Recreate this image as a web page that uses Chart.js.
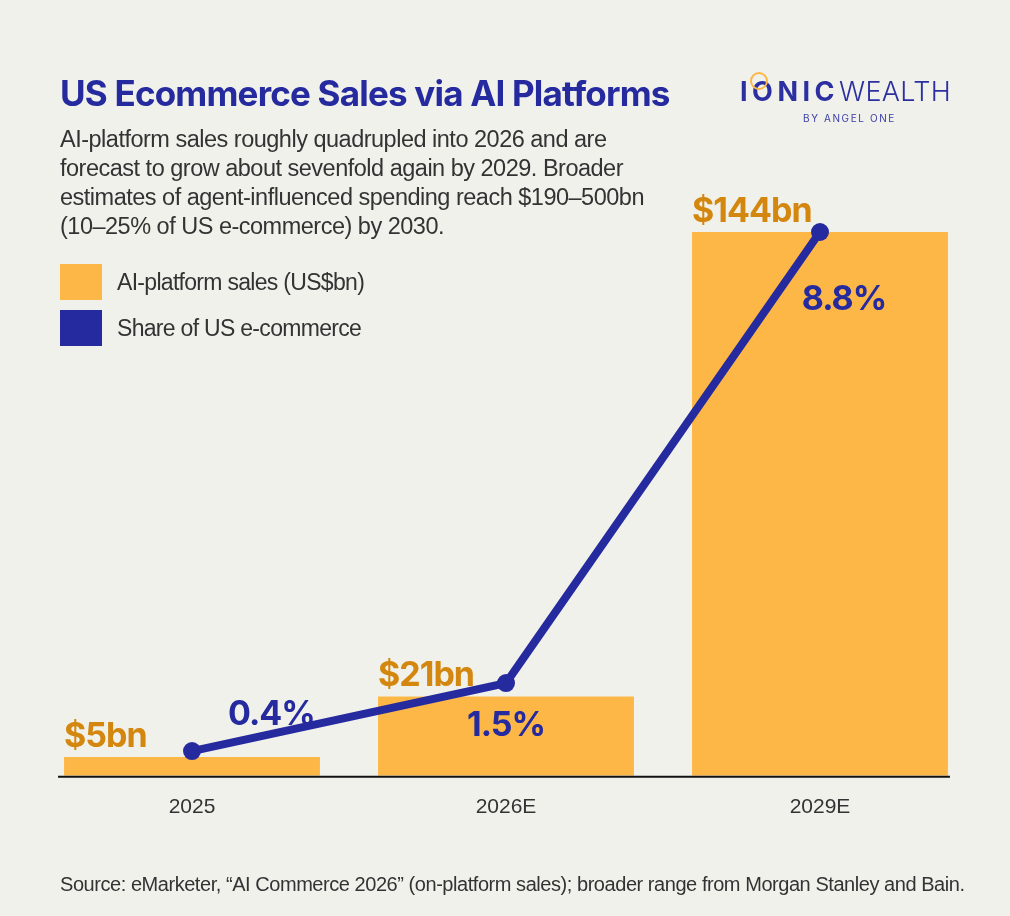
<!DOCTYPE html>
<html lang="en">
<head>
    <meta charset="UTF-8">
    <title>US Ecommerce Sales via AI Platforms</title>
    <style>
        html, body {
            margin: 0;
            padding: 0;
            background-color: #f1f1ec;
            font-family: "Liberation Sans", Arial, sans-serif;
        }
        #page {
            position: relative;
            width: 1010px;
            height: 916px;
            overflow: hidden;
        }
        #chartBox {
            position: absolute;
            left: 0;
            top: 0;
            width: 1010px;
            height: 916px;
        }
        h1 {
            position: absolute;
            left: 60px;
            top: 71px;
            margin: 0;
            font-family: Inter, sans-serif;
            font-size: 35px;
            font-weight: 700;
            letter-spacing: -0.8px;
            color: #252a9e;
            line-height: 44px;
            white-space: nowrap;
        }
        #subtitle {
            position: absolute;
            left: 60px;
            top: 125px;
            margin: 0;
            font-size: 23.5px;
            line-height: 29px;
            letter-spacing: -0.5px;
            color: #333;
            white-space: nowrap;
        }
        .legend {
            position: absolute;
            left: 60px;
            display: flex;
            align-items: center;
            font-size: 23px;
            letter-spacing: -0.7px;
            color: #333;
        }
        .legend span.box {
            display: inline-block;
            width: 42px;
            height: 36px;
            margin-right: 15px;
        }
        #logo {
            position: absolute;
            left: 740px;
            top: 75px;
            color: #2b2fa0;
            font-family: Inter, sans-serif;
        }
        #logo .main {
            font-size: 27px;
            line-height: 34px;
            white-space: nowrap;
        }
        #logo .ionic { font-weight: 700; letter-spacing: 4.5px; }
        #logo .wealth { font-weight: 300; letter-spacing: 0.3px; }
        #logo .by {
            font-size: 10px;
            letter-spacing: 1.6px;
            margin-left: 63px;
            margin-top: 3px;
            color: #3d40a8;
        }
        #ring {
            position: absolute;
            left: 10px;
            top: -3px;
            width: 14px;
            height: 14px;
            border: 2.5px solid #fdb747;
            border-radius: 50%;
        }
        #source {
            position: absolute;
            left: 60px;
            top: 872px;
            font-size: 20px;
            line-height: 24px;
            letter-spacing: -0.45px;
            color: #333;
            white-space: nowrap;
        }
    </style>
    <script src="https://cdn.jsdelivr.net/npm/chart.js"></script>
</head>
<body>
<div id="page">
    <div id="chartBox"><canvas id="myChart" width="1010" height="916"></canvas></div>

    <h1>US Ecommerce Sales via AI Platforms</h1>
    <p id="subtitle">AI-platform sales roughly quadrupled into 2026 and are<br>forecast to grow about sevenfold again by 2029. Broader<br>estimates of agent-influenced spending reach $190–500bn<br>(10–25% of US e-commerce) by 2030.</p>

    <div class="legend" style="top:264px"><span class="box" style="background:#fdb747"></span>AI-platform sales (US$bn)</div>
    <div class="legend" style="top:310px"><span class="box" style="background:#252a9e"></span>Share of US e-commerce</div>

    <div id="logo">
        <div id="ring"></div>
        <div class="main"><span class="ionic">IONIC</span><span class="wealth">WEALTH</span></div>
        <div class="by">BY ANGEL ONE</div>
    </div>

    <div id="source">Source: eMarketer, “AI Commerce 2026” (on-platform sales); broader range from Morgan Stanley and Bain.</div>
</div>

<script>
    // Dane
    const years = ['2025', '2026E', '2029E'];
    const salesBn = [5, 21, 144];          // AI-platform sales (US$bn)
    const sharePct = [0.4, 1.5, 8.8];      // Share of US e-commerce (%)

    const orange = '#fdb747';
    const orangeText = '#d4870e';
    const navy = '#252a9e';

    // przesunięcia etykiet procentowych względem punktu (styl, nie dane)
    const shareLabelPos = [
        { dx: 36, dy: -36, align: 'left' },
        { dx: 0, dy: 43, align: 'center' },
        { dx: 24, dy: 68, align: 'center' }
    ];

    const labelsPlugin = {
        id: 'labelsPlugin',
        afterDatasetsDraw(chart) {
            const ctx = chart.ctx;
            const barMeta = chart.getDatasetMeta(1);
            const lineMeta = chart.getDatasetMeta(0);
            const yBase = chart.scales.y.getPixelForValue(0);

            // linia osi
            const first = barMeta.data[0];
            const last = barMeta.data[barMeta.data.length - 1];
            ctx.save();
            ctx.strokeStyle = '#111';
            ctx.lineWidth = 2;
            ctx.beginPath();
            ctx.moveTo(first.x - first.width / 2 - 6, yBase + 1);
            ctx.lineTo(last.x + last.width / 2 + 2, yBase + 1);
            ctx.stroke();

            // kwoty nad słupkami
            ctx.font = '700 34px Inter, Arial, sans-serif';
            ctx.fillStyle = orangeText;
            ctx.textAlign = 'left';
            ctx.textBaseline = 'alphabetic';
            if (ctx.letterSpacing !== undefined) ctx.letterSpacing = '-1px';
            barMeta.data.forEach((bar, i) => {
                ctx.fillText('$' + salesBn[i] + 'bn', bar.x - bar.width / 2, bar.y - 10);
            });

            // procenty przy punktach
            ctx.fillStyle = navy;
            ctx.textBaseline = 'middle';
            lineMeta.data.forEach((pt, i) => {
                const p = shareLabelPos[i];
                ctx.textAlign = p.align;
                ctx.fillText(sharePct[i].toFixed(1) + '%', pt.x + p.dx, pt.y + p.dy);
            });
            ctx.restore();
        }
    };

    const ctx = document.getElementById('myChart').getContext('2d');
    const myChart = new Chart(ctx, {
        type: 'bar',
        data: {
            labels: years,
            datasets: [{
                type: 'line',
                label: 'Share of US e-commerce',
                data: sharePct,
                yAxisID: 'y1',
                borderColor: navy,
                backgroundColor: navy,
                borderWidth: 8,
                pointRadius: 9,
                pointBackgroundColor: navy,
                pointBorderWidth: 0,
                tension: 0,
                clip: false,
                order: 0
            }, {
                label: 'AI-platform sales (US$bn)',
                data: salesBn,
                backgroundColor: orange,
                categoryPercentage: 1,
                barPercentage: 0.815,
                order: 1
            }]
        },
        options: {
            responsive: false,
            animation: false,
            layout: {
                padding: { left: 35, right: 33, top: 232, bottom: 77 }
            },
            plugins: {
                legend: { display: false },
                tooltip: { enabled: false }
            },
            scales: {
                x: {
                    grid: { display: false, drawTicks: false },
                    border: { display: false },
                    ticks: {
                        color: '#333',
                        padding: 19,
                        font: { family: '"Liberation Sans", Arial, sans-serif', size: 21 }
                    }
                },
                y: {
                    display: false,
                    min: 0,
                    max: Math.max(...salesBn)
                },
                y1: {
                    display: false,
                    min: 0,
                    max: Math.max(...sharePct)
                }
            }
        },
        plugins: [labelsPlugin]
    });
</script>
</body>
</html>
